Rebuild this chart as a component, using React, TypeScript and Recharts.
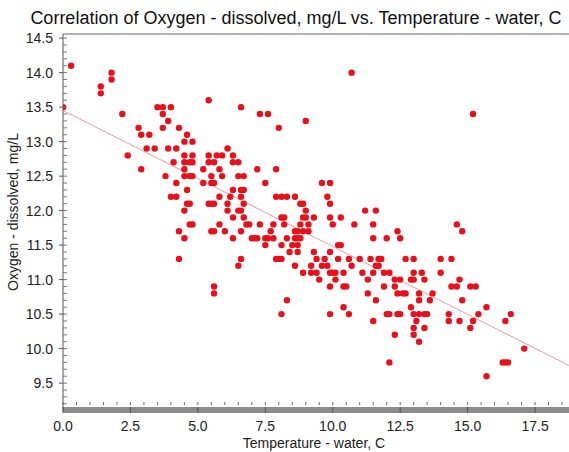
import React from 'react';
import { ScatterChart, Scatter, XAxis, YAxis, ReferenceLine } from 'recharts';

const title = 'Correlation of Oxygen - dissolved, mg/L vs. Temperature - water, C';
const xLabel = 'Temperature - water, C';
const yLabel = 'Oxygen - dissolved, mg/L';

// temperature (C), dissolved oxygen (mg/L)
const samples: [number, number][] = [
  [0.3, 14.1],
  [1.8, 14.0], [10.7, 14.0],
  [1.8, 13.9],
  [1.4, 13.8],
  [1.4, 13.7],
  [5.4, 13.6],
  [0.0, 13.5], [3.5, 13.5], [3.7, 13.5], [4.0, 13.5], [6.6, 13.5],
  [2.2, 13.4], [3.7, 13.4], [7.3, 13.4], [7.6, 13.4], [15.2, 13.4],
  [3.9, 13.3], [9.0, 13.3],
  [2.8, 13.2], [3.7, 13.2], [4.3, 13.2], [8.0, 13.2],
  [2.9, 13.1], [3.2, 13.1], [4.6, 13.1],
  [4.5, 13.0], [4.8, 13.0],
  [3.1, 12.9], [3.4, 12.9], [3.9, 12.9], [4.2, 12.9], [6.1, 12.9],
  [2.4, 12.8], [4.5, 12.8], [4.8, 12.8], [5.4, 12.8], [5.7, 12.8], [5.9, 12.8], [6.3, 12.8],
  [4.1, 12.7], [4.5, 12.7], [4.7, 12.7], [4.8, 12.7], [5.4, 12.7], [5.6, 12.7], [6.3, 12.7], [6.5, 12.7],
  [2.9, 12.6], [4.5, 12.6], [5.2, 12.6], [5.8, 12.6], [7.2, 12.6], [7.9, 12.6],
  [3.8, 12.5], [4.5, 12.5], [4.7, 12.5], [4.8, 12.5], [5.5, 12.5], [5.9, 12.5], [6.5, 12.5], [6.7, 12.5],
  [4.2, 12.4], [5.2, 12.4], [5.5, 12.4], [5.6, 12.4], [7.5, 12.4], [9.6, 12.4], [9.9, 12.4],
  [4.6, 12.3], [6.3, 12.3], [6.6, 12.3], [6.7, 12.3],
  [4.0, 12.2], [4.2, 12.2], [5.8, 12.2], [6.2, 12.2], [6.6, 12.2], [7.9, 12.2], [8.1, 12.2], [8.3, 12.2], [8.6, 12.2], [9.8, 12.2],
  [4.6, 12.1], [4.7, 12.1], [5.4, 12.1], [5.5, 12.1], [5.6, 12.1], [6.1, 12.1], [6.7, 12.1], [8.8, 12.1], [8.9, 12.1], [9.9, 12.1],
  [4.5, 12.0], [6.1, 12.0], [6.5, 12.0], [6.6, 12.0], [9.0, 12.0], [11.2, 12.0], [11.6, 12.0],
  [6.3, 11.9], [6.7, 11.9], [8.1, 11.9], [8.2, 11.9], [8.9, 11.9], [9.0, 11.9], [9.3, 11.9], [9.9, 11.9], [10.3, 11.9],
  [4.7, 11.8], [4.8, 11.8], [5.8, 11.8], [6.8, 11.8], [6.9, 11.8], [7.3, 11.8], [7.8, 11.8], [8.2, 11.8], [8.8, 11.8], [9.1, 11.8], [10.0, 11.8], [10.8, 11.8], [11.5, 11.8], [14.6, 11.8],
  [4.3, 11.7], [5.5, 11.7], [5.6, 11.7], [6.0, 11.7], [6.6, 11.7], [7.7, 11.7], [8.6, 11.7], [8.7, 11.7], [8.9, 11.7], [9.1, 11.7], [12.4, 11.7], [14.8, 11.7],
  [4.5, 11.6], [6.3, 11.6], [7.0, 11.6], [7.1, 11.6], [7.2, 11.6], [7.5, 11.6], [7.6, 11.6], [7.8, 11.6], [8.3, 11.6], [8.6, 11.6], [8.7, 11.6], [8.8, 11.6], [11.5, 11.6], [12.0, 11.6], [12.5, 11.6],
  [7.5, 11.5], [8.1, 11.5], [8.5, 11.5], [8.7, 11.5], [10.2, 11.5], [10.3, 11.5],
  [8.4, 11.4], [8.7, 11.4], [9.3, 11.4], [9.9, 11.4],
  [4.3, 11.3], [6.6, 11.3], [7.9, 11.3], [8.0, 11.3], [8.1, 11.3], [9.4, 11.3], [9.7, 11.3], [10.2, 11.3], [10.6, 11.3], [11.0, 11.3], [11.4, 11.3], [11.7, 11.3], [11.8, 11.3], [12.7, 11.3], [13.0, 11.3], [14.0, 11.3], [14.4, 11.3],
  [6.5, 11.2], [8.6, 11.2], [9.2, 11.2], [9.6, 11.2], [9.8, 11.2], [10.7, 11.2], [11.6, 11.2], [11.7, 11.2],
  [8.9, 11.1], [9.2, 11.1], [9.4, 11.1], [9.9, 11.1], [10.0, 11.1], [10.1, 11.1], [10.4, 11.1], [11.1, 11.1], [11.5, 11.1], [11.9, 11.1], [12.1, 11.1], [13.0, 11.1], [13.3, 11.1], [14.0, 11.1],
  [9.5, 11.0], [10.1, 11.0], [11.3, 11.0], [12.3, 11.0], [12.5, 11.0], [12.9, 11.0], [13.0, 11.0], [13.4, 11.0], [14.7, 11.0],
  [5.6, 10.9], [9.9, 10.9], [10.4, 10.9], [10.5, 10.9], [11.9, 10.9], [12.3, 10.9], [14.4, 10.9], [14.6, 10.9], [15.1, 10.9], [15.3, 10.9],
  [5.6, 10.8], [11.3, 10.8], [12.4, 10.8], [12.6, 10.8], [12.7, 10.8], [13.2, 10.8], [13.7, 10.8],
  [8.3, 10.7], [11.6, 10.7], [13.2, 10.7], [13.6, 10.7], [14.8, 10.7],
  [10.4, 10.6], [12.9, 10.6], [15.7, 10.6],
  [8.1, 10.5], [9.9, 10.5], [10.6, 10.5], [12.0, 10.5], [12.1, 10.5], [12.4, 10.5], [12.5, 10.5], [13.0, 10.5], [13.2, 10.5], [13.4, 10.5], [13.5, 10.5], [14.3, 10.5], [15.4, 10.5], [16.6, 10.5],
  [11.5, 10.4], [13.1, 10.4], [14.3, 10.4], [14.7, 10.4], [15.2, 10.4], [16.4, 10.4],
  [13.0, 10.3], [13.4, 10.3], [15.1, 10.3],
  [12.3, 10.2], [13.0, 10.2],
  [13.2, 10.1],
  [17.1, 10.0],
  [12.1, 9.8], [16.3, 9.8], [16.4, 9.8], [16.5, 9.8],
  [15.7, 9.6],
];

// least squares line as drawn, its two ends
const trendLine = [
  { temp: 0, oxygen: 13.45 },
  { temp: 19.5, oxygen: 9.61 },
];

const xDomain = [0, 19.5];
const yDomain = [9.11, 14.56];
const xMajorTicks = [0, 2.5, 5, 7.5, 10, 12.5, 15, 17.5];
const xTicks = [
  0, 0.5, 1, 1.5, 2, 2.5, 3, 3.5, 4, 4.5, 5, 5.5, 6, 6.5, 7, 7.5, 8, 8.5, 9, 9.5,
  10, 10.5, 11, 11.5, 12, 12.5, 13, 13.5, 14, 14.5, 15, 15.5, 16, 16.5, 17, 17.5, 18, 18.5, 19,
];
const yMajorTicks = [9.5, 10, 10.5, 11, 11.5, 12, 12.5, 13, 13.5, 14, 14.5];
const yTicks = [
  9.2, 9.3, 9.4, 9.5, 9.6, 9.7, 9.8, 9.9, 10, 10.1, 10.2, 10.3, 10.4, 10.5, 10.6, 10.7, 10.8, 10.9,
  11, 11.1, 11.2, 11.3, 11.4, 11.5, 11.6, 11.7, 11.8, 11.9, 12, 12.1, 12.2, 12.3, 12.4, 12.5, 12.6,
  12.7, 12.8, 12.9, 13, 13.1, 13.2, 13.3, 13.4, 13.5, 13.6, 13.7, 13.8, 13.9, 14, 14.1, 14.2, 14.3,
  14.4, 14.5,
];

const points = samples.map(([temp, oxygen]) => ({ temp, oxygen }));

const font = '"Liberation Sans", Arial, sans-serif';

const XTick = ({ x, y, payload }: any) => {
  const major = xMajorTicks.includes(payload.value);
  return (
    <g>
      <line x1={x} x2={x} y1={y - 8} y2={y - 5} stroke="#666" />
      {major && <line x1={x} x2={x} y1={y - 3} y2={y + 3} stroke="#555" />}
      {major && (
        <text x={x} y={y + 21} textAnchor="middle" fontSize={14} fill="#222" fontFamily={font}>
          {payload.value.toFixed(1)}
        </text>
      )}
    </g>
  );
};

const YTick = ({ x, y, payload }: any) => {
  const major = yMajorTicks.includes(payload.value);
  return (
    <g>
      <line x1={x} x2={x + 4} y1={y} y2={y} stroke="#777" />
      {major && <line x1={x - 4} x2={x} y1={y} y2={y} stroke="#555" />}
      {major && (
        <text x={x - 10} y={y + 5} textAnchor="end" fontSize={14} fill="#222" fontFamily={font}>
          {payload.value.toFixed(1)}
        </text>
      )}
    </g>
  );
};

const Dot = ({ cx, cy }: any) => <circle cx={cx} cy={cy} r={3.2} fill="#e8101a" />;

const YTitle = () => (
  <text
    x={13}
    y={212}
    transform="rotate(-90 13 212)"
    textAnchor="middle"
    dominantBaseline="central"
    fontSize={14}
    fill="#222"
    fontFamily={font}
  >
    {yLabel}
  </text>
);

const XTitle = () => (
  <text x={314} y={448} textAnchor="middle" fontSize={14} fill="#222" fontFamily={font}>
    {xLabel}
  </text>
);

export default function App() {
  return (
    <div
      style={{
        position: 'absolute',
        left: 0,
        top: 0,
        width: 569,
        height: 452,
        overflow: 'hidden',
        background: '#fff',
        fontFamily: font,
      }}
    >
      <div
        style={{
          position: 'absolute',
          left: 0,
          top: 9,
          width: 592,
          textAlign: 'center',
          fontSize: 18,
          lineHeight: '18px',
          color: '#111',
          whiteSpace: 'nowrap',
        }}
      >
        {title}
      </div>
      <ScatterChart width={589} height={452} margin={{ top: 34, right: 0, bottom: 0, left: 0 }}>
        <XAxis
          type="number"
          dataKey="temp"
          domain={xDomain}
          ticks={xTicks}
          interval={0}
          height={42}
          tickSize={0}
          tickMargin={0}
          tickLine={false}
          tick={<XTick />}
          axisLine={{ stroke: '#8c8c8c', strokeWidth: 6 }}
          allowDataOverflow
          label={{ content: () => <XTitle /> }}
        />
        <YAxis
          type="number"
          dataKey="oxygen"
          domain={yDomain}
          ticks={yTicks}
          interval={0}
          width={63}
          tickSize={0}
          tickMargin={0}
          tickLine={false}
          tick={<YTick />}
          axisLine={{ stroke: '#555' }}
          allowDataOverflow
          label={{ content: () => <YTitle /> }}
        />
        <ReferenceLine y={yDomain[1]} stroke="#666" />
        <Scatter
          data={trendLine}
          dataKey="oxygen"
          line={{ stroke: '#f09a9a', strokeWidth: 1 }}
          shape={() => <g />}
          isAnimationActive={false}
        />
        <Scatter data={points} dataKey="oxygen" shape={<Dot />} isAnimationActive={false} />
      </ScatterChart>
    </div>
  );
}
